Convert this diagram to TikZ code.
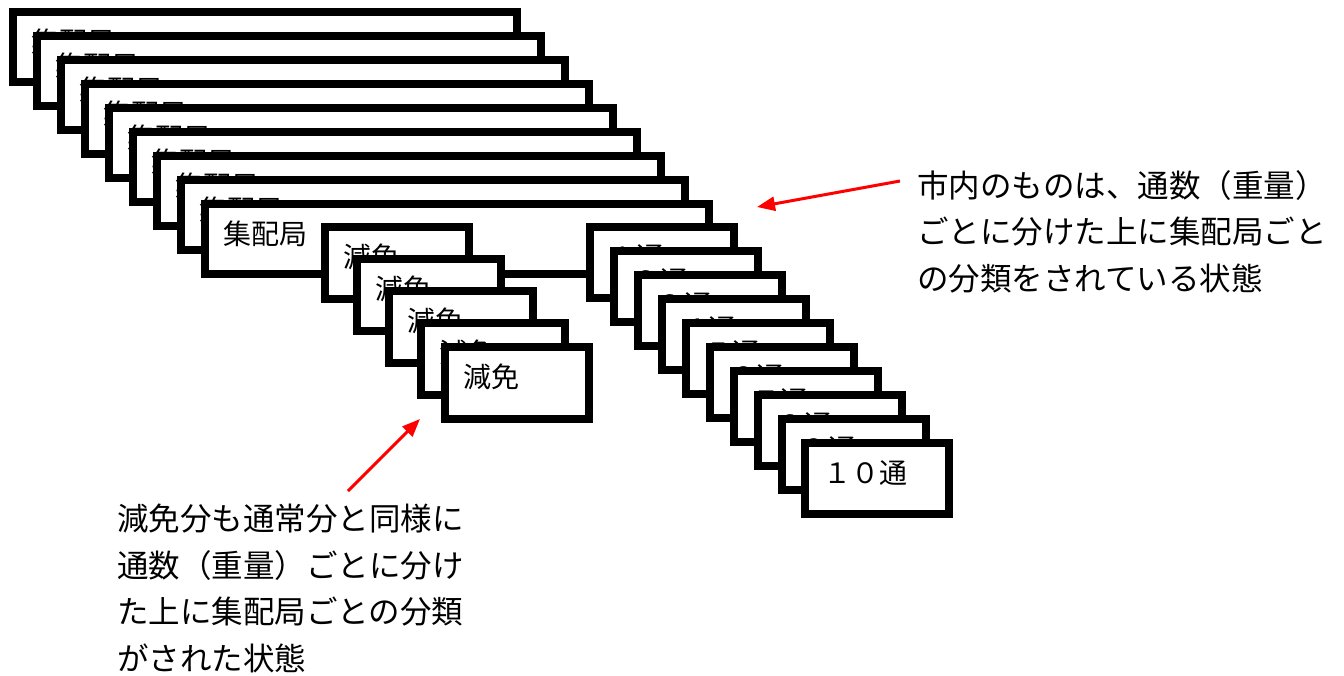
\documentclass[tikz,border=0pt]{standalone}
\usepackage{fontspec}
\setmainfont{Noto Sans CJK JP}
\usetikzlibrary{arrows.meta}

\begin{document}
\begin{tikzpicture}[x=1pt, y=-1pt,
  stackbox/.style = {rectangle, draw, line width=8pt, fill=white, anchor=north west, align=left,
                     inner xsep=18pt, inner ysep=0pt, text height=40pt,
                     font=\fontsize{28pt}{32pt}\selectfont},
  kyokubox/.style = {stackbox, text width=468pt, text depth=30pt},
  genmenbox/.style = {stackbox, text width=108pt, text depth=32pt},
  tsubox/.style = {stackbox, text width=108pt, text depth=31pt},
  note/.style = {anchor=base west, align=left, inner sep=0pt, font=\fontsize{31.5pt}{46.5pt}\selectfont},
  pointer/.style = {draw=red, line width=3pt, -{Triangle[length=18pt, width=14pt]}}]
  \useasboundingbox (0, 0) rectangle (1344, 675);

  % Offices.
  \node at (9, 8) [kyokubox, name=Kyoku1] {集配局};
  \node at (33, 32) [kyokubox, name=Kyoku2] {集配局};
  \node at (57, 56) [kyokubox, name=Kyoku3] {集配局};
  \node at (81, 80) [kyokubox, name=Kyoku4] {集配局};
  \node at (105, 104) [kyokubox, name=Kyoku5] {集配局};
  \node at (129, 128) [kyokubox, name=Kyoku6] {集配局};
  \node at (153, 152) [kyokubox, name=Kyoku7] {集配局};
  \node at (177, 176) [kyokubox, name=Kyoku8] {集配局};
  \node at (201, 200) [kyokubox, name=Kyoku9] {集配局};

  % Reduced-fee items.
  \node at (321, 223) [genmenbox, name=Genmen1] {減免};
  \node at (353, 255) [genmenbox, name=Genmen2] {減免};
  \node at (385, 287) [genmenbox, name=Genmen3] {減免};
  \node at (417, 319) [genmenbox, name=Genmen4] {減免};
  \node at (441, 343) [genmenbox, name=Genmen5] {減免};

  % Counts.
  \node at (586, 223) [tsubox, name=Tsu1] {１通};
  \node at (610, 247) [tsubox, name=Tsu2] {２通};
  \node at (634, 271) [tsubox, name=Tsu3] {３通};
  \node at (658, 295) [tsubox, name=Tsu4] {４通};
  \node at (682, 319) [tsubox, name=Tsu5] {５通};
  \node at (706, 343) [tsubox, name=Tsu6] {６通};
  \node at (730, 367) [tsubox, name=Tsu7] {７通};
  \node at (754, 391) [tsubox, name=Tsu8] {８通};
  \node at (778, 415) [tsubox, name=Tsu9] {９通};
  \node at (801, 439) [tsubox, name=Tsu10] {１０通};

  % Notes (anchored on the last line).
  \node at (917, 290) [note, name=CityNote] {市内のものは、通数（重量）\\ごとに分けた上に集配局ごと\\の分類をされている状態};
  \node at (117, 670) [note, name=ReliefNote] {減免分も通常分と同様に\\通数（重量）ごとに分け\\た上に集配局ごとの分類\\がされた状態};

  % Pointers.
  \coordinate (CityTip) at (757, 207);
  \coordinate (ReliefTip) at (420, 419);
  \draw [pointer] ([xshift=-17pt, yshift=109pt]CityNote.base west)
             to (CityTip);
  \draw [pointer] ([xshift=231pt, yshift=179pt]ReliefNote.base west)
             to (ReliefTip);
\end{tikzpicture}
\end{document}
